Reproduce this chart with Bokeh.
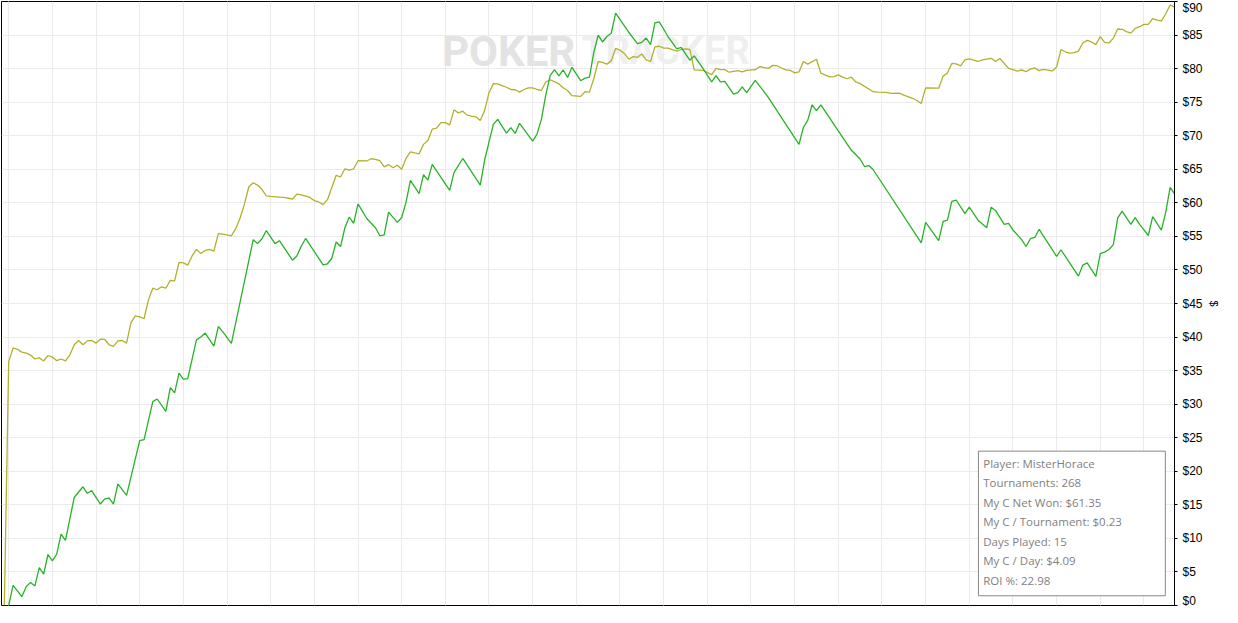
from bokeh.plotting import figure
from bokeh.models import (Range1d, FixedTicker, NumeralTickFormatter, BoxAnnotation,
                          Label, Grid)
from bokeh.embed import file_html
from bokeh.resources import INLINE

# ---------------- data ----------------
# tournament index of each vertex / cumulative $ (My C Net Won, green)
green_t = [0, 1, 3, 4, 5, 6, 7, 8, 9, 10,
           11, 12, 13, 15, 17, 18, 19, 21, 22, 23,
           24, 25, 27, 30, 31, 33, 34, 36, 37, 38,
           39, 40, 41, 43, 44, 45, 47, 48, 49, 51,
           56, 57, 58, 59, 61, 62, 65, 66, 67, 68,
           72, 73, 74, 75, 76, 77, 78, 79, 80, 82,
           84, 85, 86, 87, 89, 90, 91, 92, 94, 95,
           96, 97, 101, 102, 104, 108, 109, 110, 111, 112,
           114, 115, 116, 117, 120, 121, 122, 123, 124, 125,
           126, 127, 128, 129, 131, 132, 133, 134, 135, 136,
           137, 138, 139, 142, 144, 145, 146, 147, 148, 149,
           151, 153, 154, 156, 157, 159, 161, 162, 163, 164,
           166, 167, 168, 169, 171, 174, 181, 182, 183, 184,
           185, 186, 193, 195, 196, 197, 198, 209, 210, 213,
           214, 215, 216, 217, 219, 220, 222, 224, 225, 226,
           228, 229, 230, 232, 233, 234, 235, 236, 240, 241,
           245, 246, 247, 249, 250, 251, 252, 253, 254, 255,
           257, 258, 259, 260, 261, 262, 264, 265, 266, 267]
green_v = [0, 3.01, 1.31, 2.81, 3.44, 2.91, 5.63, 4.69, 7.60, 6.64,
           7.66, 10.65, 9.69, 16.09, 17.69, 16.72, 17.11, 15.12, 15.89, 15.99,
           15.12, 18.13, 16.42, 24.56, 24.71, 30.38, 30.77, 28.92, 32.46, 31.69,
           34.64, 33.72, 33.82, 39.58, 40.01, 40.60, 38.66, 41.57, 40.80, 39.06,
           54.51, 53.92, 54.65, 55.86, 53.92, 54.36, 51.45, 52.08, 53.53, 54.69,
           50.77, 50.92, 51.74, 54.17, 53.49, 56.29, 57.89, 56.93, 59.84, 57.66,
           56.29, 55.09, 55.23, 58.62, 57.08, 57.81, 60.07, 63.33, 61.38, 64.20,
           63.37, 65.74, 61.87, 64.53, 66.61, 62.64, 66.38, 69.04, 71.70, 72.43,
           70.39, 71.22, 70.35, 71.85, 69.19, 70.25, 72.43, 76.06, 78.97, 79.84,
           78.92, 79.80, 78.68, 80.19, 78.20, 78.59, 78.73, 82.37, 84.99, 83.97,
           84.78, 85.27, 88.27, 85.42, 83.72, 83.91, 84.55, 83.58, 86.82, 86.96,
           84.78, 82.95, 83.18, 81.25, 81.88, 80.04, 78.01, 78.97, 78.01, 78.10,
           76.21, 76.41, 77.28, 76.41, 78.24, 75.68, 68.71, 71.22, 72.28, 74.61,
           73.74, 74.61, 67.83, 66.53, 65.41, 65.55, 64.93, 54.03, 57.08, 54.36,
           57.22, 57.41, 60.22, 60.42, 58.39, 59.35, 57.41, 56.29, 59.35, 58.87,
           56.79, 56.93, 55.96, 54.51, 53.49, 54.65, 54.84, 56.06, 52.03, 53.01,
           49.08, 50.73, 51.06, 49.05, 52.43, 52.66, 53.05, 53.78, 57.75, 58.76,
           56.79, 57.81, 56.79, 55.96, 55.13, 57.95, 55.92, 58.62, 62.31, 61.35]

# second series (yellow)
yellow_t = [-1, 0, 1, 2, 3, 4, 5, 6, 7, 8,
            9, 10, 11, 12, 13, 14, 15, 16, 17, 18,
            19, 20, 21, 22, 23, 24, 25, 26, 27, 28,
            29, 30, 31, 32, 33, 34, 35, 36, 37, 38,
            39, 40, 41, 42, 43, 44, 45, 46, 47, 48,
            49, 50, 51, 52, 53, 54, 55, 56, 57, 58,
            59, 60, 62, 63, 65, 66, 67, 69, 70, 71,
            72, 73, 75, 76, 77, 78, 79, 80, 82, 83,
            84, 85, 86, 87, 88, 89, 90, 91, 92, 93,
            94, 95, 96, 97, 98, 99, 100, 101, 102, 103,
            104, 105, 106, 107, 108, 109, 110, 111, 112, 113,
            114, 115, 116, 117, 118, 119, 120, 121, 122, 123,
            124, 125, 126, 127, 128, 129, 131, 132, 133, 134,
            135, 136, 137, 138, 139, 140, 141, 142, 143, 144,
            145, 146, 147, 148, 149, 150, 151, 153, 154, 155,
            156, 157, 159, 161, 162, 163, 164, 165, 167, 168,
            169, 171, 172, 174, 175, 176, 177, 178, 179, 180,
            181, 182, 183, 185, 186, 188, 189, 190, 191, 192,
            193, 194, 195, 198, 199, 201, 202, 204, 205, 207,
            208, 209, 210, 213, 214, 215, 216, 217, 218, 219,
            220, 222, 223, 225, 226, 227, 229, 230, 231, 232,
            233, 234, 235, 236, 237, 239, 240, 241, 242, 243,
            244, 245, 246, 247, 248, 249, 250, 251, 252, 253,
            254, 255, 256, 257, 258, 259, 260, 261, 262, 263,
            264, 265, 266, 267]
yellow_v = [0, 36.34, 38.37, 38.18, 37.75, 37.60, 37.31, 36.73, 36.92, 36.44,
            37.25, 37.02, 36.48, 36.73, 36.44, 37.31, 38.85, 39.49, 38.85, 39.43,
            39.49, 39.10, 39.68, 39.64, 38.85, 38.62, 39.43, 39.49, 39.10, 42.15,
            43.17, 43.02, 42.73, 45.54, 47.28, 47.05, 47.49, 47.28, 48.45, 48.36,
            51.12, 51.06, 50.73, 52.08, 53.05, 52.47, 52.91, 53.05, 52.81, 55.42,
            55.33, 55.23, 55.09, 56.15, 57.75, 59.84, 62.40, 62.98, 62.65, 62.02,
            61.05, 60.95, 60.86, 60.80, 60.57, 61.29, 61.19, 60.80, 60.32, 60.13,
            59.74, 60.47, 64.10, 63.85, 65.07, 64.87, 65.07, 66.28, 66.24, 66.57,
            66.47, 66.28, 65.36, 65.70, 65.22, 65.60, 65.02, 66.61, 67.59, 67.44,
            67.30, 68.71, 69.29, 70.98, 71.12, 71.95, 71.95, 71.61, 73.88, 73.40,
            73.65, 73.07, 72.92, 72.82, 72.28, 73.74, 76.41, 77.76, 77.72, 77.47,
            77.22, 76.89, 76.85, 76.50, 76.89, 77.14, 77.14, 76.89, 76.74, 78.01,
            78.34, 78.05, 77.72, 77.14, 76.74, 75.97, 75.87, 76.56, 76.50, 78.49,
            81.06, 80.92, 80.67, 81.15, 83.00, 82.75, 82.27, 81.40, 81.79, 81.69,
            82.17, 81.29, 81.06, 83.24, 83.33, 83.04, 83.04, 82.60, 82.85, 82.95,
            82.85, 79.80, 79.75, 79.11, 80.04, 79.84, 79.84, 79.46, 79.70, 79.51,
            79.75, 79.84, 80.28, 80.04, 80.48, 80.42, 80.09, 79.80, 79.75, 79.36,
            79.51, 81.06, 80.67, 81.40, 79.32, 78.78, 78.82, 79.07, 78.73, 78.49,
            78.73, 78.01, 77.76, 76.56, 76.50, 76.45, 76.31, 76.35, 76.06, 75.58,
            75.25, 74.81, 77.14, 77.08, 78.88, 79.36, 80.77, 80.71, 80.42, 81.29,
            81.44, 81.06, 81.29, 81.54, 81.06, 81.50, 80.04, 79.84, 79.61, 79.80,
            79.55, 79.94, 80.09, 79.70, 79.90, 79.65, 80.23, 82.85, 82.51, 82.31,
            82.37, 82.60, 83.82, 84.20, 83.97, 83.58, 84.78, 83.91, 83.82, 84.55,
            85.90, 85.86, 85.51, 85.28, 86.00, 86.24, 86.59, 86.59, 87.46, 87.21,
            87.11, 88.18, 89.49, 89.14]

x_ticks = list(range(0, 261, 10))
y_ticks = list(range(0, 91, 5))

stats_lines = ["Player: MisterHorace",
               "Tournaments: 268",
               "My C Net Won: $61.35",
               "My C / Tournament: $0.23",
               "Days Played: 15",
               "My C / Day: $4.09",
               "ROI %: 22.98"]

# ---------------- styles / layout ----------------
GREEN = "#29b229"
YELLOW = "#b3b02c"
GRID = "#ebebeb"
STAT_COLOR = "#7f7f7f"

p = figure(width=1222, height=607, output_backend="svg", toolbar_location=None,
           title=None,
           x_range=Range1d(-1.65, 267.0), y_range=Range1d(0, 90),
           x_axis_location=None, y_axis_location="right",
           min_border_left=1, min_border_top=1, min_border_bottom=2, min_border_right=0,
           background_fill_color="white", border_fill_color="white")

p.outline_line_color = "black"
p.outline_line_width = 1
p.outline_line_alpha = 1

# right axis
p.yaxis.ticker = FixedTicker(ticks=y_ticks)
p.yaxis.formatter = NumeralTickFormatter(format="$0")
p.yaxis.major_tick_out = 3
p.yaxis.major_tick_in = 0
p.yaxis.minor_tick_line_color = None
p.yaxis.major_label_standoff = 5
p.yaxis.major_label_text_font = "Liberation Sans"
p.yaxis.major_label_text_font_size = "12px"
p.yaxis.major_label_text_color = "black"
p.yaxis.axis_line_color = "black"
p.yaxis.major_tick_line_color = "black"
p.yaxis.axis_label = "$"
p.yaxis.axis_label_standoff = 2
p.yaxis.axis_label_text_font = "Liberation Sans"
p.yaxis.axis_label_text_font_size = "11px"
p.yaxis.axis_label_text_font_style = "normal"
p.yaxis.axis_label_text_color = "black"

p.ygrid.ticker = FixedTicker(ticks=y_ticks)
p.ygrid.grid_line_color = GRID
p.ygrid.grid_line_width = 1
p.add_layout(Grid(dimension=0, ticker=FixedTicker(ticks=x_ticks),
                  grid_line_color=GRID, grid_line_width=1), "center")

# watermark
p.add_layout(Label(x=114.5, y=82.6, text="POKER", text_font="Roboto",
                   text_font_style="bold", text_font_size="42px",
                   text_color="#e3e3e3", text_align="center",
                   text_baseline="middle", level="underlay"))
p.add_layout(Label(x=150.5, y=82.6, text="TRACKER", text_font="Roboto",
                   text_font_style="bold", text_font_size="38px",
                   text_color="#efefef", text_align="center",
                   text_baseline="middle", level="underlay"))

# series
p.line(yellow_t, yellow_v, line_color=YELLOW, line_width=1.3)
p.line(green_t, green_v, line_color=GREEN, line_width=1.3)

# stats box
p.add_layout(BoxAnnotation(left=222.1, right=264.9, bottom=1.45, top=23.0,
                           fill_color="white", fill_alpha=1.0,
                           line_color="#888888", line_alpha=1.0, line_width=1))
stat_y = [21.22, 18.31, 15.41, 12.50, 9.59, 6.69, 3.78]
for yy, s in zip(stat_y, stats_lines):
    p.add_layout(Label(x=223.2, y=yy, text=s, text_font="Open Sans",
                       text_font_size="11.5px", text_color=STAT_COLOR,
                       text_baseline="middle", text_align="left"))

open("out.html", "w").write(file_html(p, INLINE))
